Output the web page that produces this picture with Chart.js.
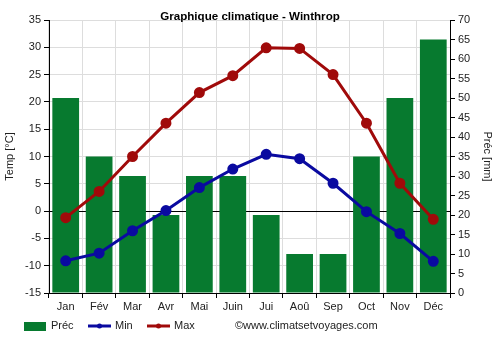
<!DOCTYPE html>
<html><head><meta charset="utf-8">
<script src="https://cdn.jsdelivr.net/npm/chart.js@4/dist/chart.umd.min.js"></script>
<style>html,body{margin:0;padding:0;background:#fff}#w{width:500px;height:350px}</style>
</head><body><div id="w"><canvas id="c" width="500" height="350"></canvas></div>
<script>
const months = ['Jan','Fév','Mar','Avr','Mai','Juin','Jui','Aoû','Sep','Oct','Nov','Déc'];
const precip = [50,35,30,20,30,30,20,10,10,35,50,65];
const tMin = [-9.1,-7.7,-3.6,0.1,4.3,7.7,10.4,9.6,5.1,-0.1,-4.1,-9.2];
const tMax = [-1.2,3.6,10.0,16.1,21.7,24.8,29.9,29.8,25.0,16.1,5.1,-1.5];
const titleText = 'Graphique climatique - Winthrop';
const watermark = '©www.climatsetvoyages.com';

const GREEN = '#077a2f', BLUE = '#0a0aa0', RED = '#a00a0a';
const FONT = 'Arial, "Liberation Sans", sans-serif';

const extras = {
  id: 'extras',
  afterDraw(chart) {
    const ctx = chart.ctx;
    ctx.save();
    ctx.fillStyle = '#000';
    ctx.font = 'bold 11.6px ' + FONT;
    ctx.textAlign = 'center';
    ctx.textBaseline = 'middle';
    ctx.fillText(titleText, 250, 17);
    ctx.font = '11px ' + FONT;
    ctx.textAlign = 'left';
    const ly = 326;
    ctx.fillStyle = GREEN;
    ctx.fillRect(24, 322, 22, 9);
    ctx.fillStyle = '#222';
    ctx.fillText('Préc', 51, ly);
    ctx.strokeStyle = BLUE; ctx.lineWidth = 3;
    ctx.beginPath(); ctx.moveTo(88, ly); ctx.lineTo(111, ly); ctx.stroke();
    ctx.fillStyle = BLUE; ctx.beginPath(); ctx.arc(99.5, ly, 2.5, 0, Math.PI*2); ctx.fill();
    ctx.fillStyle = '#222'; ctx.fillText('Min', 115, ly);
    ctx.strokeStyle = RED;
    ctx.beginPath(); ctx.moveTo(147, ly); ctx.lineTo(170, ly); ctx.stroke();
    ctx.fillStyle = RED; ctx.beginPath(); ctx.arc(158.5, ly, 2.5, 0, Math.PI*2); ctx.fill();
    ctx.fillStyle = '#222'; ctx.fillText('Max', 174, ly);
    ctx.fillText(watermark, 235, ly);
    ctx.restore();
  }
};

new Chart(document.getElementById('c'), {
  data: {
    labels: months,
    datasets: [
      { type: 'line', label: 'Min', data: tMin, yAxisID: 'y', borderColor: BLUE, backgroundColor: BLUE,
        borderWidth: 3, pointRadius: 4, pointHoverRadius: 4, tension: 0, order: 1 },
      { type: 'line', label: 'Max', data: tMax, yAxisID: 'y', borderColor: RED, backgroundColor: RED,
        borderWidth: 3, pointRadius: 4, pointHoverRadius: 4, tension: 0, order: 0 },
      { type: 'bar', label: 'Préc', data: precip, yAxisID: 'y1', backgroundColor: GREEN,
        barPercentage: 1, categoryPercentage: 0.8, order: 2 }
    ]
  },
  options: {
    responsive: false, animation: false,
    layout: { padding: { top: 20, right: 0, left: 0, bottom: 0 } },
    plugins: { legend: { display: false }, title: { display: false }, tooltip: { enabled: false } },
    scales: {
      x: {
        offset: true,
        grid: { color: '#dddddd', tickColor: '#000', tickLength: 5, offset: true },
        border: { color: '#000' },
        ticks: { color: '#222', font: { size: 11, family: FONT }, padding: 2, maxRotation: 0 },
        afterFit(s) { s.height = 57; }
      },
      y: {
        position: 'left', min: -15, max: 35,
        grid: { color: c => c.tick && c.tick.value === 0 ? '#000' : '#dddddd', tickColor: '#000', tickLength: 5 },
        border: { color: '#000' },
        ticks: { stepSize: 5, color: '#222', font: { size: 11, family: FONT }, padding: 3 },
        title: { display: true, text: 'Temp [°C]', color: '#222', font: { size: 11, family: FONT }, padding: { top: 3, bottom: 0 } },
        afterFit(s) { s.width = 49; }
      },
      y1: {
        position: 'right', min: 0, max: 70,
        grid: { drawOnChartArea: false, tickColor: '#000', tickLength: 5 },
        border: { color: '#000' },
        ticks: { stepSize: 5, color: '#222', font: { size: 11, family: FONT }, padding: 3 },
        title: { display: true, text: 'Préc [mm]', color: '#222', font: { size: 11, family: FONT }, padding: { top: 6, bottom: 0 } },
        afterFit(s) { s.width = 50; }
      }
    }
  },
  plugins: [extras]
});
</script>
</body></html>
